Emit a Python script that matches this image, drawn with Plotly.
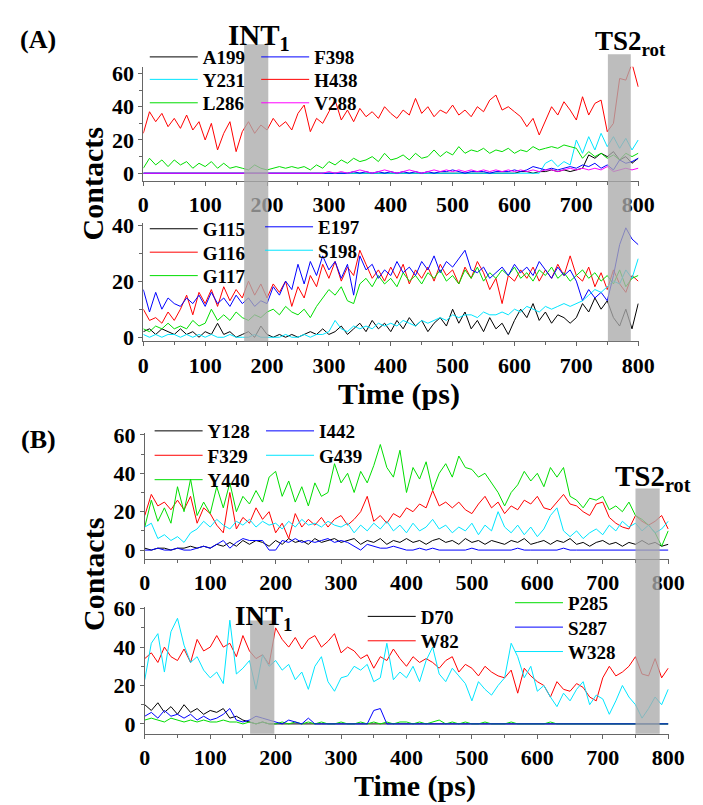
import plotly.graph_objects as go

# ---------------- data (time step 10 ps) ----------------
time_ps = list(range(0, 801, 10))

# Panel A, top
A199 = [0,0,0,0,0,0,0,0,0,0, 0,0,0,0,0,0,0,0,0,0, 0,0,0,0,0,0,0,0,0,0, 0,0,0,0,0,0,0,0,0,0,
        0,0,0,0,0,0,0,0,0,0, 0,0,0,0,0,0,0,0,0,0, 0,1,1,0,1,1,2,1,2,1, 2,3,11,9,12,10,13,8,10,6, 9]
Y231 = [0,0,0,0,0,0,0,0,0,0, 0,0,0,0,0,0,0,0,0,0, 0,0,0,0,0,0,0,0,0,0, 0,0,0,0,0,0,0,0,0,0,
        0,0,0,0,0,0,0,0,0,0, 0,0,0,0,0,0,0,0,0,0, 0,0,0,0,0,6,8,4,7,5, 20,12,22,14,24,16,22,15,21,14, 20]
L286 = [3,9,5,8,4,8,5,7,3,6, 4,7,3,6,3,4,3,2,5,3, 2,3,4,3,4,3,4,2,5,3, 7,5,8,6,9,7,8,10,7,12,
        8,9,11,8,12,9,10,14,10,13, 11,16,12,14,13,15,12,14,13,15, 12,14,13,16,14,15,16,15,17,16,
        15,9,13,10,12,9,11,8,12,10, 12]
F398 = [0,0,0,0,0,0,0,0,0,0, 0,0,0,0,0,0,0,0,0,0, 0,0,0,0,0,0,0,0,0,0, 0,0,0,0,1,0,1,0,1,0,
        1,0,1,0,1,0,1,0,1,1, 2,1,0,1,1,1,0,1,1,1, 2,1,2,4,3,2,3,2,3,4, 3,5,4,6,3,5,2,8,6,7, 9]
H438 = [24,37,31,36,28,33,27,35,26,31, 20,30,14,24,31,13,25,31,24,29, 26,33,28,31,26,36,41,25,33,30,
        37,44,32,38,31,39,34,37,33,40, 36,33,38,35,45,36,40,34,38,36, 41,35,38,34,40,37,44,47,38,40,
        37,34,28,33,23,31,40,35,43,38, 32,46,35,42,44,25,30,57,56,66, 52]
V288 = [0,0,0,0,0,0,0,0,0,0, 0,0,0,0,0,0,0,0,0,0, 0,0,0,0,0,0,0,0,0,0, 1,0,1,0,1,2,1,0,1,2,
        1,0,1,2,1,0,1,2,1,2, 1,2,1,2,1,2,1,2,1,2, 1,2,1,2,1,2,2,1,2,3, 2,3,2,3,2,4,1,2,3,2, 3]

# Panel A, bottom
G115 = [2,3,1,3,2,1,3,1,2,0, 2,1,5,1,2,0,1,2,0,4, 1,0,1,0,1,0,1,2,1,3, 1,2,4,1,3,5,2,6,3,5,
        2,6,3,7,4,6,2,5,7,4, 10,5,9,3,6,2,7,3,5,1, 6,10,7,12,6,9,5,8,7,5, 7,12,9,14,10,13,7,4,10,3, 12]
G116 = [10,6,7,5,9,6,10,15,8,16, 12,17,11,18,13,17,14,20,15,19, 14,19,16,20,11,18,14,22,18,26,
        21,27,20,25,22,31,26,21,24,20, 25,21,26,19,24,21,25,20,26,22, 24,19,25,21,27,23,17,21,12,22,
        20,24,21,25,20,24,21,26,22,29, 22,20,25,18,23,17,24,19,16,22, 20]
G117 = [3,2,4,3,5,3,4,3,6,4, 5,10,6,8,6,9,7,6,8,7, 9,10,8,11,9,8,10,7,11,14, 17,15,18,13,12,19,21,18,22,19,
        21,18,23,20,22,19,23,21,24,20, 22,19,24,21,25,20,23,21,24,22, 25,21,23,20,24,22,25,21,23,20,
        22,24,21,23,20,22,19,24,18,21, 22]
E197 = [17,9,16,10,14,12,11,14,12,15, 11,16,12,14,11,15,12,14,11,13, 12,18,15,20,17,26,19,27,22,29,
        24,27,21,26,15,29,24,26,21,24, 22,27,23,25,22,27,24,29,23,27, 25,28,31,24,23,25,21,23,25,22,
        26,23,25,22,27,24,21,25,22,24, 20,13,17,14,16,13,22,33,39,35, 33]
S198 = [1,0,1,0,1,1,0,1,0,1, 0,1,0,0,1,0,0,0,1,0, 0,0,0,1,0,0,1,0,1,1, 2,6,3,2,4,3,4,3,5,4,
        5,4,6,5,4,6,5,6,7,6, 8,7,8,8,7,9,8,8,9,8, 10,9,11,10,9,11,10,11,12,11, 12,13,15,17,16,18,20,19,24,21, 28]

# Panel B, top
Y128 = [1,0,1,1,0,1,1,2,1,2, 1,3,2,4,2,5,3,5,4,2, 5,3,6,4,5,3,6,4,5,6, 4,5,6,3,5,4,6,3,5,4,
        6,4,5,3,5,6,4,5,3,6, 4,5,3,5,4,3,5,4,6,3, 4,5,3,5,4,6,3,4,2,4, 5,3,4,2,4,3,5,3,4,2, 3]
F329 = [18,29,23,25,21,26,21,28,14,22, 19,13,9,30,11,17,14,22,16,20, 9,14,6,19,12,16,13,17,12,16,
        18,13,16,20,28,15,18,14,19,17, 22,20,24,22,31,23,25,22,25,21, 19,24,28,22,25,19,23,21,26,24,
        28,22,21,25,29,24,23,20,18,24, 25,17,14,12,11,18,15,13,15,18, 11]
Y440 = [12,26,15,22,14,33,20,37,18,25, 19,33,22,35,20,28,24,31,25,38, 41,28,36,25,33,23,35,28,30,45,
        35,40,30,41,35,44,55,43,38,52, 30,43,37,46,31,40,45,38,49,43, 42,38,40,35,30,23,30,34,41,36,
        40,33,43,38,43,28,26,22,27,26, 28,21,23,20,25,18,16,13,9,2, 10]
I442 = [0,0,1,0,0,1,0,0,1,2, 1,3,5,1,4,6,5,5,5,0, 0,5,4,6,4,5,4,5,6,4, 5,4,2,0,3,2,1,1,2,1,
        0,0,1,0,1,0,0,0,0,0, 1,0,0,0,0,0,0,1,0,0, 0,0,0,0,1,0,0,0,0,0, 0,0,0,0,0,0,0,0,0,0, 0]
G439 = [12,14,6,8,5,7,4,9,11,15, 12,16,13,11,15,13,16,12,15,13, 14,11,15,12,16,13,14,12,15,13,
        12,14,9,13,10,14,11,15,10,13, 9,14,10,12,16,11,13,9,12,10, 14,8,13,10,20,12,9,13,8,12,
        7,11,18,22,10,7,10,6,9,11, 8,13,10,15,12,14,10,13,9,11, 15]

# Panel B, bottom
D70 = [10,7,11,6,9,5,10,6,8,5, 7,6,8,3,4,2,1,0,1,0, 0,0,0,0,0,0,0,0,0,0, 0,0,0,0,0,0,0,0,0,0,
       0,0,0,0,0,0,0,0,0,0, 0,0,0,0,0,0,0,0,0,0, 0,0,0,0,0,0,0,0,0,0, 0,0,0,0,0,0,0,0,0,0, 0]
W82 = [34,37,32,40,35,33,39,32,44,38, 40,46,40,42,35,46,38,34,36,31, 50,44,40,45,39,44,46,40,43,47,
       37,40,38,34,36,29,35,33,39,34, 30,35,32,34,32,29,33,35,27,31, 29,25,30,27,25,24,28,16,29,25,
       22,20,14,22,18,17,21,19,14,12, 24,30,25,27,30,35,26,25,34,24, 29]
P285 = [2,3,2,1,3,2,1,2,1,2, 1,1,2,1,1,0,1,0,1,0, 0,1,0,1,0,1,0,1,0,0, 1,0,0,1,0,1,0,1,0,1,
        1,0,1,0,1,2,0,1,0,1, 0,0,1,0,0,0,1,0,0,0, 0,0,1,0,0,0,0,0,0,0, 0,0,0,0,0,0,0,0,0,0, 0]
S287 = [4,6,3,7,4,5,3,5,2,4, 2,3,5,8,2,1,2,4,3,2, 1,0,2,1,0,3,0,0,0,0, 0,0,0,0,0,7,8,0,0,0,
        0,0,0,0,0,0,0,0,0,0, 0,0,0,0,0,0,0,0,0,0, 0,0,0,0,0,0,0,0,0,0, 0,0,0,0,0,0,0,0,0,0, 0]
W328 = [23,42,47,27,48,55,41,32,35,28, 24,27,21,54,26,29,33,18,36,30, 33,28,31,23,27,18,30,35,22,17,
        24,25,30,28,31,22,24,42,23,27, 24,30,22,33,40,26,22,29,25,21, 12,22,18,15,20,24,42,35,24,30,
        17,20,14,9,16,12,18,22,10,15, 13,5,12,20,14,10,3,8,14,10, 18]

x_ticks = [0, 100, 200, 300, 400, 500, 600, 700, 800]
y_ticks = [0, 20, 40, 60]

BLACK, RED, GREEN, BLUE, CYAN, MAGENTA = "#000000", "#ff0000", "#00dd00", "#0000ff", "#00e5ff", "#ff00ff"

# (name, values, colour, x-axis, y-axis)
series = [
    ("A199", A199, BLACK, "x", "y"),
    ("Y231", Y231, CYAN, "x", "y"),
    ("L286", L286, GREEN, "x", "y"),
    ("F398", F398, BLUE, "x", "y"),
    ("H438", H438, RED, "x", "y"),
    ("V288", V288, MAGENTA, "x", "y"),
    ("G115", G115, BLACK, "x2", "y2"),
    ("G116", G116, RED, "x2", "y2"),
    ("G117", G117, GREEN, "x2", "y2"),
    ("E197", E197, BLUE, "x2", "y2"),
    ("S198", S198, CYAN, "x2", "y2"),
    ("Y128", Y128, BLACK, "x3", "y3"),
    ("F329", F329, RED, "x3", "y3"),
    ("Y440", Y440, GREEN, "x3", "y3"),
    ("I442", I442, BLUE, "x3", "y3"),
    ("G439", G439, CYAN, "x3", "y3"),
    ("D70", D70, BLACK, "x4", "y4"),
    ("W82", W82, RED, "x4", "y4"),
    ("P285", P285, GREEN, "x4", "y4"),
    ("S287", S287, BLUE, "x4", "y4"),
    ("W328", W328, CYAN, "x4", "y4"),
]

# legend entry placement: (left edge of entry text, centre row) in pixels
legend_place = {
    "A199": (193, 40), "Y231": (193, 63), "L286": (193, 87),
    "F398": (308, 40), "H438": (308, 63), "V288": (308, 87),
    "G115": (193, 216), "G116": (193, 240), "G117": (193, 264),
    "E197": (312, 214), "S198": (312, 238),
    "Y128": (198, 423), "F329": (198, 448), "Y440": (198, 473),
    "I442": (313, 423), "G439": (313, 448),
    "D70": (418, 613), "W82": (418, 638),
    "P285": (570, 599), "S287": (570, 624), "W328": (570, 649),
}

W, H = 703, 805
SERIF = "Liberation Serif"
ITEMW = 48


def px(v):
    return v / W


def py(v):
    return 1 - v / H


fig = go.Figure()
leg_font = dict(family=SERIF, size=19, color="black", weight="bold")
for i, (name, vals, col, xa, ya) in enumerate(series):
    assert len(vals) == len(time_ps), name
    lg = f"legend{i + 2}"
    fig.add_trace(go.Scatter(x=time_ps, y=vals, name=name, mode="lines", showlegend=True,
                             line=dict(color=col, width=1), xaxis=xa, yaxis=ya, legend=lg))
    tx, ty = legend_place[name]
    fig.update_layout({lg: dict(x=px(tx - ITEMW - 10), y=py(ty), xanchor="left", yanchor="middle",
                                bgcolor="rgba(0,0,0,0)", borderwidth=0, font=leg_font,
                                itemwidth=ITEMW, visible=True)})

axis_common = dict(showline=True, linecolor="#666666", linewidth=1, ticks="outside",
                   tickcolor="#666666", ticklen=4, showgrid=False, zeroline=False,
                   tickfont=dict(family=SERIF, size=22, color="black", weight="bold"))
x_common = dict(axis_common, tickvals=x_ticks, range=[0, 801],
                minor=dict(ticks="outside", ticklen=3, dtick=50, tick0=0, tickcolor="#666666"))
y_common = dict(axis_common, tickvals=y_ticks,
                minor=dict(ticks="outside", ticklen=3, dtick=10, tick0=0, tickcolor="#666666"))

domA = [px(133.5), px(645)]
domB = [px(135), px(676)]

fig.update_layout(
    width=W, height=H, autosize=False,
    margin=dict(l=0, r=0, t=0, b=0),
    paper_bgcolor="white", plot_bgcolor="white",
    xaxis=dict(x_common, domain=domA, anchor="y"),
    yaxis=dict(y_common, domain=[py(167), py(50)], range=[-4.7, 64], anchor="x"),
    xaxis2=dict(x_common, domain=domA, anchor="y2"),
    yaxis2=dict(y_common, domain=[py(331), py(210)], range=[-1.4, 40.7], anchor="x2"),
    xaxis3=dict(x_common, domain=domB, anchor="y3"),
    yaxis3=dict(y_common, domain=[py(554), py(425)], range=[-4.6, 61], anchor="x3"),
    xaxis4=dict(x_common, domain=domB, anchor="y4"),
    yaxis4=dict(y_common, domain=[py(733), py(603)], range=[-5.1, 61], anchor="x4"),
)

# shaded intervals (drawn above the curves)
band = dict(type="rect", yref="paper", fillcolor="rgba(170,170,170,0.78)", line=dict(width=0), layer="above")
fig.add_shape(band, xref="x", x0=163, x1=202, y0=py(331), y1=py(27))
fig.add_shape(band, xref="x", x0=751, x1=788, y0=py(331), y1=py(37))
fig.add_shape(band, xref="x3", x0=750, x1=787, y0=py(733), y1=py(482))
fig.add_shape(band, xref="x4", x0=161, x1=198, y0=py(733), y1=py(617))


def ann(text, x, y, size, angle=0):
    fig.add_annotation(text=text, x=px(x), y=py(y), xref="paper", yref="paper",
                       showarrow=False, xanchor="center", yanchor="middle", textangle=angle,
                       borderpad=0,
                       font=dict(family=SERIF, size=size, color="black", weight="bold"))


ann("(A)", 25, 22, 26)
ann("(B)", 25, 432, 26)
ann("INT<sub>1</sub>", 253, 19, 29)
ann("TS2<sub>rot</sub>", 636, 26, 27)
ann("TS2<sub>rot</sub>", 660, 471, 29)
ann("INT<sub>1</sub>", 258, 614, 27)
ann("Contacts", 82, 170, 30, -90)
ann("Contacts", 82, 570, 30, -90)
ann("Time (ps)", 397, 385, 30)
ann("Time (ps)", 414, 787, 30)

fig.write_html("out.html")
